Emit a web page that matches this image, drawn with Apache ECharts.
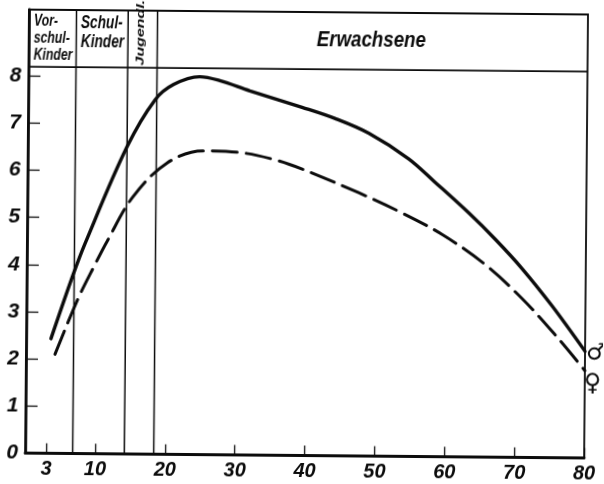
<!DOCTYPE html>
<html><head><meta charset="utf-8">
<style>html,body{margin:0;padding:0;background:#fff;overflow:hidden;width:604px;height:484px}
#c{width:604px;height:484px;transform:rotate(0.5deg);transform-origin:302px 242px}</style>
<script src="https://cdn.jsdelivr.net/npm/echarts@6/dist/echarts.min.js"></script>
</head><body><div id="c"></div>
<script>
const xTicks = [3,10,20,30,40,50,60,70,80];
const yTicks = [0,1,2,3,4,5,6,7,8];
const male = [[3.55,2.43],[6.62,3.78],[8.3,4.45],[14.2,6.51],[18.15,7.51],[20.8,7.84],[24.5,8.01],[27.4,7.93],[31.7,7.72],[39.2,7.38],[43.9,7.15],[48.8,6.84],[54.5,6.31],[58.3,5.82],[63.2,5.17],[67,4.62],[70.9,4.0],[75.2,3.22],[80,2.26]];
const female = [[4.15,2.10],[7.37,3.28],[9.76,4.01],[11.45,4.5],[15.1,5.45],[19.9,6.17],[25.1,6.44],[30.4,6.41],[35.7,6.25],[39.3,6.07],[47.4,5.58],[53.2,5.19],[59.4,4.71],[65.6,4.08],[70.9,3.37],[75.9,2.57],[80,1.85]];
const dividerAges = [6.8,14.2,18.4];
const headerLevel = 8.19;
const yTop = 9.4;
const xEnd = 80;

const font = '"Liberation Sans",sans-serif';
const ink = '#0c0c0c';
const rule = (data, w) => ({type:'line',data,showSymbol:false,symbol:'none',silent:true,animation:false,
  lineStyle:{color:ink,width:w},z:1});
const headText = (text,x,y,size,sx,extra) => ({type:'text',x,y,scaleX:extra&&extra.rotation?1:sx,scaleY:extra&&extra.rotation?sx:1,silent:true,z:10,...extra,
  style:{text,fill:ink,font:'italic bold '+size+'px '+font,lineHeight:size}});

const chart = echarts.init(document.getElementById('c'),null,{renderer:'canvas'});
chart.setOption({
  animation:false,
  backgroundColor:'#fff',
  grid:{left:27,right:18,top:12,bottom:28.5,show:true,borderColor:ink,borderWidth:1.8},
  xAxis:{type:'value',min:0,max:xEnd,splitLine:{show:false},
    axisLine:{show:true,onZero:false,lineStyle:{color:ink,width:2.8}},
    axisTick:{show:true,inside:true,length:10,customValues:xTicks,lineStyle:{color:ink,width:1.3}},
    axisLabel:{customValues:xTicks,color:ink,fontFamily:font,fontStyle:'italic',fontWeight:'bold',fontSize:20,margin:6,showMaxLabel:true}},
  yAxis:{type:'value',min:0,max:yTop,splitLine:{show:false},
    axisLine:{show:true,onZero:false,lineStyle:{color:ink,width:2.8}},
    axisTick:{show:true,inside:true,length:12,customValues:yTicks.slice(1),lineStyle:{color:ink,width:1.3}},
    axisLabel:{customValues:yTicks,color:ink,fontFamily:font,fontStyle:'italic',fontWeight:'bold',fontSize:21,margin:7}},
  series:[
    rule([[0,headerLevel],[xEnd,headerLevel]],1.8),
    rule([[dividerAges[0],0],[dividerAges[0],yTop]],1.5),
    rule([[dividerAges[1],0],[dividerAges[1],yTop]],1.5),
    rule([[dividerAges[2],0],[dividerAges[2],yTop]],1.5),
    {name:'männlich',type:'line',data:male,smooth:0.35,showSymbol:false,symbol:'none',z:3,
      lineStyle:{color:ink,width:3.4,cap:'round'}},
    {name:'weiblich',type:'line',data:female,smooth:0.35,showSymbol:false,symbol:'none',z:3,
      lineStyle:{color:ink,width:3,type:[25,9],cap:'round'}}
  ],
  graphic:[
    headText('Vor-\nschul-\nKinder',32,15,17,0.72),
    headText('Schul-\nKinder',79,15,19,0.72),
    headText('Jugendl.',133,67,16,0.72,{rotation:Math.PI/2}),
    headText('Erwachsene',315,29,22,0.85),
    {type:'text',x:587,y:340,silent:true,z:10,style:{text:'\u2642',fill:ink,font:'bold 23px "DejaVu Sans"'}},
    {type:'text',x:585,y:370,silent:true,z:10,style:{text:'\u2640',fill:ink,font:'bold 24px "DejaVu Sans"'}}
  ]
});
</script></body></html>
